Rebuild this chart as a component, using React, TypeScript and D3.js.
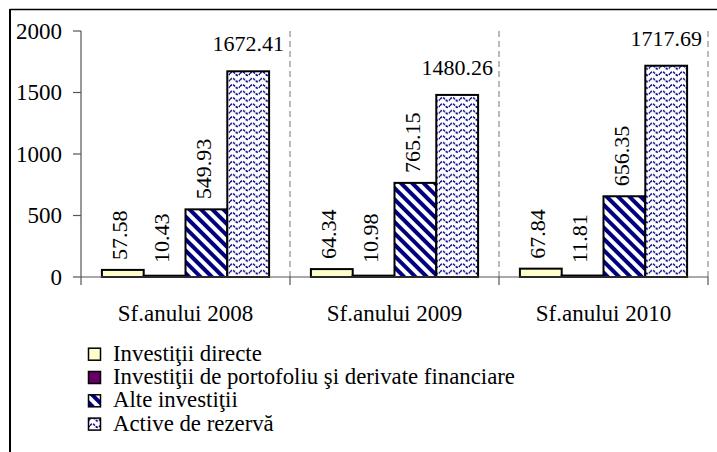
import React from "react";
import * as d3 from "d3";

const categories = ["Sf.anului 2008", "Sf.anului 2009", "Sf.anului 2010"];
const seriesNames = [
  "Investiţii directe",
  "Investiţii de portofoliu şi derivate financiare",
  "Alte investiţii",
  "Active de rezervă",
];
const investitiiDirecte = [57.58, 64.34, 67.84];
const investitiiPortofoliu = [10.43, 10.98, 11.81];
const alteInvestitii = [549.93, 765.15, 656.35];
const activeRezerva = [1672.41, 1480.26, 1717.69];
const yTicks = [0, 500, 1000, 1500, 2000];

const seriesValues = [investitiiDirecte, investitiiPortofoliu, alteInvestitii, activeRezerva];
const fills = ["#FFFFCC", "#660066", "url(#stripes)", "url(#waves)"];
const FONT = "'Liberation Serif', 'Times New Roman', serif";

export default function App() {
  const W = 717, H = 452;
  const plotLeft = 81, plotRight = 708, plotTop = 31, plotBottom = 277;
  const x = d3.scaleBand<string>().domain(categories).range([plotLeft, plotRight]).padding(0);
  const bw = x.bandwidth();
  const xs = d3.scaleBand<string>().domain(seriesNames).range([bw * 0.1, bw * 0.9]).padding(0);
  const y = d3.scaleLinear().domain([0, 2000]).range([plotBottom, plotTop]);

  const boundaries = categories.map((c) => (x(c) as number) + bw);

  return (
    <svg width={W} height={H} style={{ position: "absolute", left: 0, top: 0, background: "#fff" }}>
      <defs>
        <pattern id="stripes" patternUnits="userSpaceOnUse" width={8} height={8} patternTransform="rotate(-45)">
          <rect x={0} y={0} width={8} height={8} fill="#fff" />
          <rect x={0} y={0} width={4} height={8} fill="#000080" />
        </pattern>
        <pattern id="waves" patternUnits="userSpaceOnUse" width={10} height={6.4}>
          <rect x={0} y={0} width={10} height={6.4} fill="#fff" />
          <path d="M0,3.2 C1.7,0.9 3.3,0.9 5,3.2 C6.7,5.5 8.3,5.5 10,3.2" fill="none" stroke="#000080" strokeWidth={1.5} strokeDasharray="2.6,1" />
        </pattern>
      </defs>

      {/* outer border (cropped) */}
      <line x1={10} y1={9.5} x2={W} y2={9.5} stroke="#000" strokeWidth={1.5} />
      <line x1={10} y1={9} x2={10} y2={H} stroke="#000" strokeWidth={2} />

      {/* dashed vertical gridlines */}
      {boundaries.map((bx, i) => (
        <line key={"g" + i} x1={bx} x2={bx} y1={plotTop} y2={plotBottom} stroke="#777" strokeWidth={1} strokeDasharray="6,4" />
      ))}

      {/* bars */}
      {categories.map((c, ci) =>
        seriesNames.map((s, si) => {
          const v = seriesValues[si][ci];
          const bx = (x(c) as number) + (xs(s) as number);
          const by = y(v);
          return (
            <rect key={c + s} x={bx} y={by} width={xs.bandwidth()} height={plotBottom - by}
              fill={fills[si]} stroke="#000" strokeWidth={2} />
          );
        })
      )}

      {/* axes */}
      <line x1={plotLeft} x2={plotRight} y1={plotBottom} y2={plotBottom} stroke="#555" strokeWidth={1.2} />
      <line x1={plotLeft} x2={plotLeft} y1={plotTop} y2={plotBottom + 8} stroke="#555" strokeWidth={1.2} />
      {boundaries.map((bx, i) => (
        <line key={"xt" + i} x1={bx} x2={bx} y1={plotBottom} y2={plotBottom + 8} stroke="#555" strokeWidth={1.2} />
      ))}
      {yTicks.map((t) => (
        <g key={"yt" + t}>
          <line x1={plotLeft - 8} x2={plotLeft} y1={y(t)} y2={y(t)} stroke="#555" strokeWidth={1.2} />
          <text x={62} y={y(t)} dy="0.33em" textAnchor="end" fontFamily={FONT} fontSize={23} fill="#000">{t}</text>
        </g>
      ))}

      {/* category labels */}
      {categories.map((c) => (
        <text key={"cl" + c} x={(x(c) as number) + bw / 2} y={321} textAnchor="middle" fontFamily={FONT} fontSize={23} fill="#000">{c}</text>
      ))}

      {/* data labels */}
      {categories.map((c, ci) =>
        seriesNames.map((s, si) => {
          const v = seriesValues[si][ci];
          const cx = (x(c) as number) + (xs(s) as number) + xs.bandwidth() / 2;
          const top = y(v);
          if (si === 3) {
            return (
              <text key={"dl" + c + s} x={cx} y={top - 20} textAnchor="middle" fontFamily={FONT} fontSize={22} fill="#000">{v.toFixed(2)}</text>
            );
          }
          return (
            <text key={"dl" + c + s} transform={`translate(${cx + 4.5},${Math.min(top, plotBottom - 4) - 10}) rotate(-90)`}
              textAnchor="start" fontFamily={FONT} fontSize={22} fill="#000">{v.toFixed(2)}</text>
          );
        })
      )}

      {/* legend */}
      {seriesNames.map((s, i) => {
        const base = 360.7 + i * 23.3;
        return (
          <g key={"lg" + s}>
            <rect x={88.5} y={base - 12.5} width={12} height={12} fill={fills[i]} stroke="#000" strokeWidth={1.5} />
            <text x={113} y={base} fontFamily={FONT} fontSize={22.8} fill="#000">{s}</text>
          </g>
        );
      })}
    </svg>
  );
}
